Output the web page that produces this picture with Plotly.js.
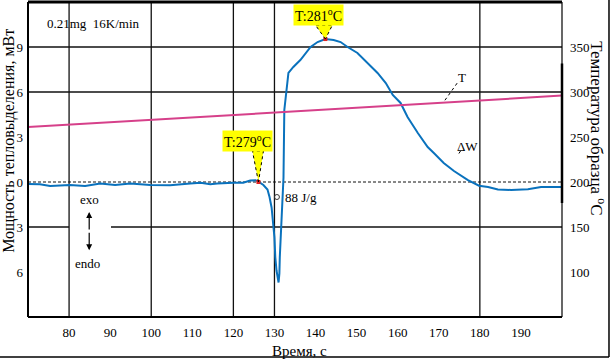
<!DOCTYPE html>
<html>
<head>
<meta charset="utf-8">
<script src="https://cdn.plot.ly/plotly-3.0.1.min.js"></script>
<style>html,body{margin:0;padding:0;background:#fff;}#chart{width:610px;height:359px;}</style>
</head>
<body>
<div id="chart"></div>
<script>
// ---- data ----
const timeTicks = [80, 90, 100, 110, 120, 130, 140, 150, 160, 170, 180, 190];
const powerTicks = [9, 6, 3, 0, -3, -6];
const powerTickText = ['9', '6', '3', '0', '3', '6'];
const tempTicks = [100, 150, 200, 250, 300, 350];

const dwTime = [70, 72.9, 75.4, 77.8, 80.2, 83.9, 87.6, 91.2, 94.9, 99.8, 104.6, 109.5, 112, 114.4, 116.1, 120, 122.4, 124.1, 125.4, 126.1, 127.3, 128.3, 128.8, 129.3, 129.8, 130.0, 130.2, 130.5, 131.0, 131.2, 131.3, 131.5, 131.7, 132.0, 132.2, 132.4, 132.7, 133.4, 134.6, 136.3, 138.8, 140.5, 142.4, 144.4, 146.1, 147.8, 150.2, 152.7, 155.1, 157.1, 158.8, 160.7, 162.4, 164.9, 167.3, 168.8, 171.2, 173.7, 177.1, 179.8, 182.0, 184.4, 187.6, 191.7, 194.9, 199.8];
const dwPower = [-0.13, -0.15, -0.27, -0.22, -0.2, -0.27, -0.1, -0.2, -0.1, -0.2, -0.22, -0.1, -0.05, -0.15, -0.1, -0.05, -0.05, 0.1, 0.12, 0.02, -0.2, -0.5, -1.0, -1.7, -3.0, -3.7, -5.0, -5.9, -6.7, -6.1, -5.0, -3.7, -2.0, -0.5, 0.3, 4.8, 5.67, 7.27, 7.67, 8.13, 9.0, 9.33, 9.53, 9.47, 9.33, 9.0, 8.6, 7.93, 7.27, 6.6, 5.8, 5.27, 4.33, 3.27, 2.33, 1.93, 1.27, 0.73, 0.13, -0.25, -0.33, -0.5, -0.53, -0.49, -0.33, -0.33];

const tempTime = [70, 200];
const tempValue = [261, 296];

const onsetTime = [126.1], onsetPower = [0.0];
const peakTime = [142.4], peakPower = [9.53];

const gridTimes = [80, 100, 120, 130, 180];
const gridPowers = [9, 6];
const enthalpyPoint = {t: 130.6, p: -1.0};

// ---- styling ----
const F = 'Liberation Serif, Times New Roman, serif';
const BLUE = '#0a72bd';
const PINK = '#d6408a';

const traces = [
  {x: dwTime, y: dwPower, type: 'scatter', mode: 'lines', line: {color: BLUE, width: 2}, hoverinfo: 'skip', yaxis: 'y'},
  {x: [enthalpyPoint.t], y: [enthalpyPoint.p], type: 'scatter', mode: 'markers',
   marker: {symbol: 'circle-open', size: 5, color: '#333', line: {width: 1}}, yaxis: 'y'},
  {x: onsetTime.concat(peakTime), y: onsetPower.concat(peakPower), type: 'scatter', mode: 'markers',
   marker: {symbol: 'square', size: 4, color: '#e02020'}, yaxis: 'y'},
  {x: tempTime, y: tempValue, type: 'scatter', mode: 'lines', line: {color: PINK, width: 2}, yaxis: 'y2'}
];

const shapes = [];
gridTimes.forEach(t => shapes.push({type: 'line', xref: 'x', yref: 'paper', x0: t, x1: t, y0: 0, y1: 1, layer: 'below', line: {color: '#111', width: 1.3}}));
gridPowers.forEach(p => shapes.push({type: 'line', xref: 'paper', yref: 'y', x0: 0, x1: 1, y0: p, y1: p, layer: 'below', line: {color: '#111', width: 1.3}}));
// -3 line interrupted by the exo/endo label
shapes.push({type: 'line', xref: 'x', yref: 'y', x0: 70, x1: 80, y0: -3, y1: -3, layer: 'below', line: {color: '#111', width: 1.3}});
shapes.push({type: 'line', xref: 'x', yref: 'y', x0: 90.2, x1: 200, y0: -3, y1: -3, layer: 'below', line: {color: '#111', width: 1.3}});
// zero dashed line
shapes.push({type: 'line', xref: 'paper', yref: 'y', x0: 0, x1: 1, y0: 0, y1: 0, layer: 'below', line: {color: '#111', width: 1, dash: '3px,2px'}});
// plot frame
shapes.push({type: 'line', xref: 'paper', yref: 'paper', x0: 0, x1: 1, y0: 1, y1: 1, line: {color: '#000', width: 3}});
shapes.push({type: 'line', xref: 'paper', yref: 'paper', x0: 0, x1: 1, y0: 0, y1: 0, line: {color: '#000', width: 2}});
shapes.push({type: 'line', xref: 'paper', yref: 'paper', x0: 0, x1: 0, y0: 0, y1: 1, line: {color: '#000', width: 2}});
shapes.push({type: 'line', xref: 'paper', yref: 'paper', x0: 1, x1: 1, y0: 0, y1: 1, line: {color: '#000', width: 1.2}});
shapes.push({type: 'line', xref: 'paper', yref: 'y', x0: 1, x1: 1, y0: 7.9, y1: -1.4, line: {color: '#000', width: 2.5}});
// outer image frame (bottom, right)
shapes.push({type: 'line', xref: 'paper', yref: 'paper', x0: -0.06, x1: 1.088, y0: -0.127, y1: -0.127, line: {color: '#000', width: 1.5}});
shapes.push({type: 'line', xref: 'paper', yref: 'paper', x0: 1.088, x1: 1.088, y0: -0.127, y1: 1.01, line: {color: '#000', width: 1.5}});
// callout pointers
shapes.push({type: 'path', xref: 'x', yref: 'y', xsizemode: 'pixel', ysizemode: 'pixel', xanchor: peakTime[0], yanchor: peakPower[0],
  path: 'M0,0 L-10,14 L7,14 Z', fillcolor: '#ffff00', line: {color: '#000', width: 1, dash: 'dot'}});
shapes.push({type: 'path', xref: 'x', yref: 'y', xsizemode: 'pixel', ysizemode: 'pixel', xanchor: onsetTime[0], yanchor: onsetPower[0],
  path: 'M0,0 L-6,31 L5,31 Z', fillcolor: '#ffff00', line: {color: '#000', width: 1, dash: 'dot'}});
// leader lines for T and ΔW
shapes.push({type: 'line', xref: 'x', yref: 'y', x0: 171.5, x1: 174.5, y0: 5.45, y1: 6.6, line: {color: '#000', width: 1, dash: 'dot'}});
shapes.push({type: 'line', xref: 'x', yref: 'y', x0: 174.9, x1: 175.5, y0: 1.9, y1: 2.15, line: {color: '#000', width: 1, dash: 'dot'}});

const annotations = [
  {x: 85.9, y: 10.55, xref: 'x', yref: 'y', text: '0.21mg  16K/min', showarrow: false, font: {family: F, size: 13, color: '#000'}},
  {x: peakTime[0], y: peakPower[0], xref: 'x', yref: 'y', text: 'T:281<sup>o</sup>C', showarrow: false,
   xanchor: 'center', yanchor: 'bottom', xshift: -7, yshift: 13, bgcolor: '#ffff00', borderpad: 1,
   font: {family: F, size: 14, color: '#000'}},
  {x: onsetTime[0], y: onsetPower[0], xref: 'x', yref: 'y', text: 'T:279<sup>o</sup>C', showarrow: false,
   xanchor: 'center', yanchor: 'bottom', xshift: -11, yshift: 30, bgcolor: '#ffff00', borderpad: 1,
   font: {family: F, size: 14, color: '#000'}},
  {x: enthalpyPoint.t, y: enthalpyPoint.p, xref: 'x', yref: 'y', text: '88 J/g', showarrow: false, xanchor: 'left', xshift: 6,
   font: {family: F, size: 13, color: '#000'}},
  {x: 175.6, y: 6.95, xref: 'x', yref: 'y', text: 'T', showarrow: false, font: {family: F, size: 13, color: '#000'}},
  {x: 177.0, y: 2.4, xref: 'x', yref: 'y', text: 'ΔW', showarrow: false, font: {family: F, size: 13, color: '#000'}},
  {x: 84.9, y: -1.15, xref: 'x', yref: 'y', text: 'exo', showarrow: false, font: {family: F, size: 13, color: '#000'}},
  {x: 84.6, y: -5.4, xref: 'x', yref: 'y', text: 'endo', showarrow: false, font: {family: F, size: 13, color: '#000'}},
  {x: 84.9, y: -2.0, xref: 'x', yref: 'y', text: '', showarrow: true, ax: 0, ay: 19, arrowhead: 2, arrowsize: 1, arrowwidth: 1.2, arrowcolor: '#000'},
  {x: 84.9, y: -4.55, xref: 'x', yref: 'y', text: '', showarrow: true, ax: 0, ay: -19, arrowhead: 2, arrowsize: 1, arrowwidth: 1.2, arrowcolor: '#000'},
  {x: 0.509, y: -0.108, xref: 'paper', yref: 'paper', text: 'Время, с', showarrow: false, yanchor: 'middle', font: {family: F, size: 15, color: '#000'}},
  {x: -0.037, y: 0.56, xref: 'paper', yref: 'paper', text: 'Мощность тепловыделения, мВт', textangle: -90, showarrow: false,
   xanchor: 'center', yanchor: 'middle', font: {family: F, size: 16, color: '#000'}},
  {x: 1.067, y: 0.6, xref: 'paper', yref: 'paper', text: 'Температура образца <sup>o</sup>С', textangle: 90, showarrow: false,
   xanchor: 'center', yanchor: 'middle', font: {family: F, size: 17, color: '#000'}}
];

const layout = {
  width: 610, height: 359,
  margin: {l: 28, r: 48, t: 2, b: 42, pad: 0},
  paper_bgcolor: '#fff', plot_bgcolor: '#fff',
  showlegend: false,
  xaxis: {range: [70, 200], tickvals: timeTicks, showgrid: false, zeroline: false, showline: false, ticks: '',
          ticklabelstandoff: 6, tickfont: {family: F, size: 13, color: '#000'}},
  yaxis: {range: [-9, 12], tickvals: powerTicks, ticktext: powerTickText, showgrid: false, zeroline: false, showline: false,
          ticks: '', ticklabelstandoff: 4, tickfont: {family: F, size: 13, color: '#000'}},
  yaxis2: {range: [50, 400], overlaying: 'y', side: 'right', tickvals: tempTicks, showgrid: false, zeroline: false,
           showline: false, ticks: '', ticklabelstandoff: 7, tickfont: {family: F, size: 13, color: '#000'}},
  shapes: shapes,
  annotations: annotations
};

Plotly.newPlot('chart', traces, layout, {staticPlot: true, displayModeBar: false});
</script>
</body>
</html>
